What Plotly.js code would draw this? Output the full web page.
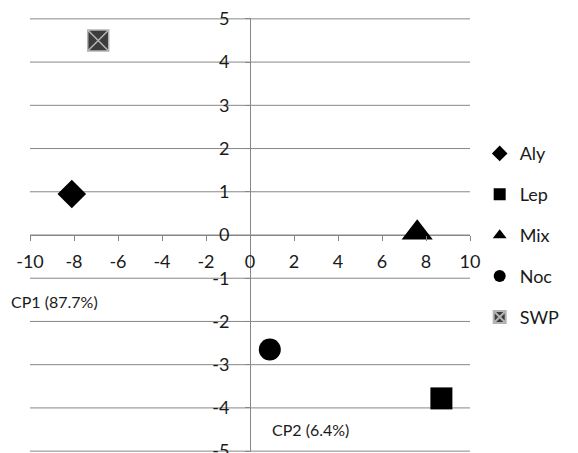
<!DOCTYPE html>
<html>
<head>
<meta charset="utf-8">
<script src="https://cdn.plot.ly/plotly-3.0.1.min.js"></script>
<style>
  html, body { margin: 0; padding: 0; background: #fff; }
  #chart { width: 578px; height: 453px; }
</style>
</head>
<body>
<div id="chart"></div>
<script>
// Principal component scores for each group (CP1 on x, CP2 on y)
const groups = ["Aly", "Lep", "Mix", "Noc", "SWP"];
const cp1 = [-8.1, 8.7, 7.6, 0.9, -6.9];
const cp2 = [0.95, -3.78, 0.05, -2.65, 4.5];
const symbols = ["diamond", "square", "triangle-up", "circle", "square-x"];
const sizes = [22, 22, 27, 22, 21];

const xTicks = [-10, -8, -6, -4, -2, 0, 2, 4, 6, 8, 10];
const yTicks = [-5, -4, -3, -2, -1, 0, 1, 2, 3, 4, 5];

const axisGrey = "#878787";
const font = { family: "Lato, 'Open Sans', sans-serif", size: 18, color: "#1a1a1a" };

const traces = groups.map((g, i) => {
  const isSWP = symbols[i] === "square-x";
  return {
    type: "scatter",
    mode: "markers",
    name: g,
    legendgroup: g,
    x: [cp1[i]],
    y: [cp2[i]],
    marker: {
      symbol: symbols[i],
      size: sizes[i],
      color: isSWP ? "#3c3c3c" : "#000000",
      line: isSWP ? { color: "#b4b4b4", width: 1.5 } : { width: 0 }
    },
    hoverinfo: "name+x+y"
  };
});

// horizontal major gridlines, one per y tick, running the full plot width
const gridShapes = yTicks.map(v => ({
  type: "line", layer: "below",
  xref: "paper", x0: 0, x1: 1,
  yref: "y", y0: v, y1: v,
  line: { color: axisGrey, width: 1 }
}));

const layout = {
  width: 578,
  height: 453,
  margin: { l: 30, r: 108, t: 18, b: 1, autoexpand: false },
  paper_bgcolor: "#ffffff",
  plot_bgcolor: "#ffffff",
  font: font,
  showlegend: true,
  legend: {
    x: 1.022, y: 0.73, xanchor: "left", yanchor: "top",
    itemsizing: "constant",
    tracegroupgap: 14.5,
    font: { family: font.family, size: 18, color: "#1a1a1a" },
    bgcolor: "rgba(0,0,0,0)"
  },
  shapes: gridShapes,
  // the axes cross at the origin: each axis line is the other axis' zero line
  xaxis: {
    range: [-10, 10],
    tickvals: xTicks,
    ticktext: xTicks.map(String),
    showgrid: false,
    zeroline: true,
    zerolinecolor: axisGrey,
    zerolinewidth: 1,
    showline: false,
    ticks: "outside",
    ticklen: 5,
    tickcolor: axisGrey,
    anchor: "free",
    position: 0.5,
    automargin: false,
    ticklabelstandoff: 5,
    ticklabeloverflow: "allow",
    fixedrange: true
  },
  yaxis: {
    range: [-5.02, 5.02],
    tickvals: yTicks,
    ticktext: yTicks.map(String),
    showgrid: false,
    zeroline: true,
    zerolinecolor: axisGrey,
    zerolinewidth: 1,
    showline: false,
    ticks: "outside",
    ticklen: 5,
    tickcolor: axisGrey,
    anchor: "free",
    position: 0.5,
    automargin: false,
    ticklabelstandoff: 12,
    ticklabeloverflow: "allow",
    fixedrange: true
  },
  annotations: [
    { text: "CP1 (87.7%)", xref: "paper", yref: "y", x: -0.047, y: -1.54,
      xanchor: "left", yanchor: "middle", showarrow: false,
      font: { family: font.family, size: 16, color: "#1a1a1a" } },
    { text: "CP2 (6.4%)", xref: "x", yref: "y", x: 2.73, y: -4.49,
      xanchor: "center", yanchor: "middle", showarrow: false,
      font: { family: font.family, size: 16, color: "#1a1a1a" } }
  ]
};

Plotly.newPlot("chart", traces, layout, { displayModeBar: false, staticPlot: true });
</script>
</body>
</html>
